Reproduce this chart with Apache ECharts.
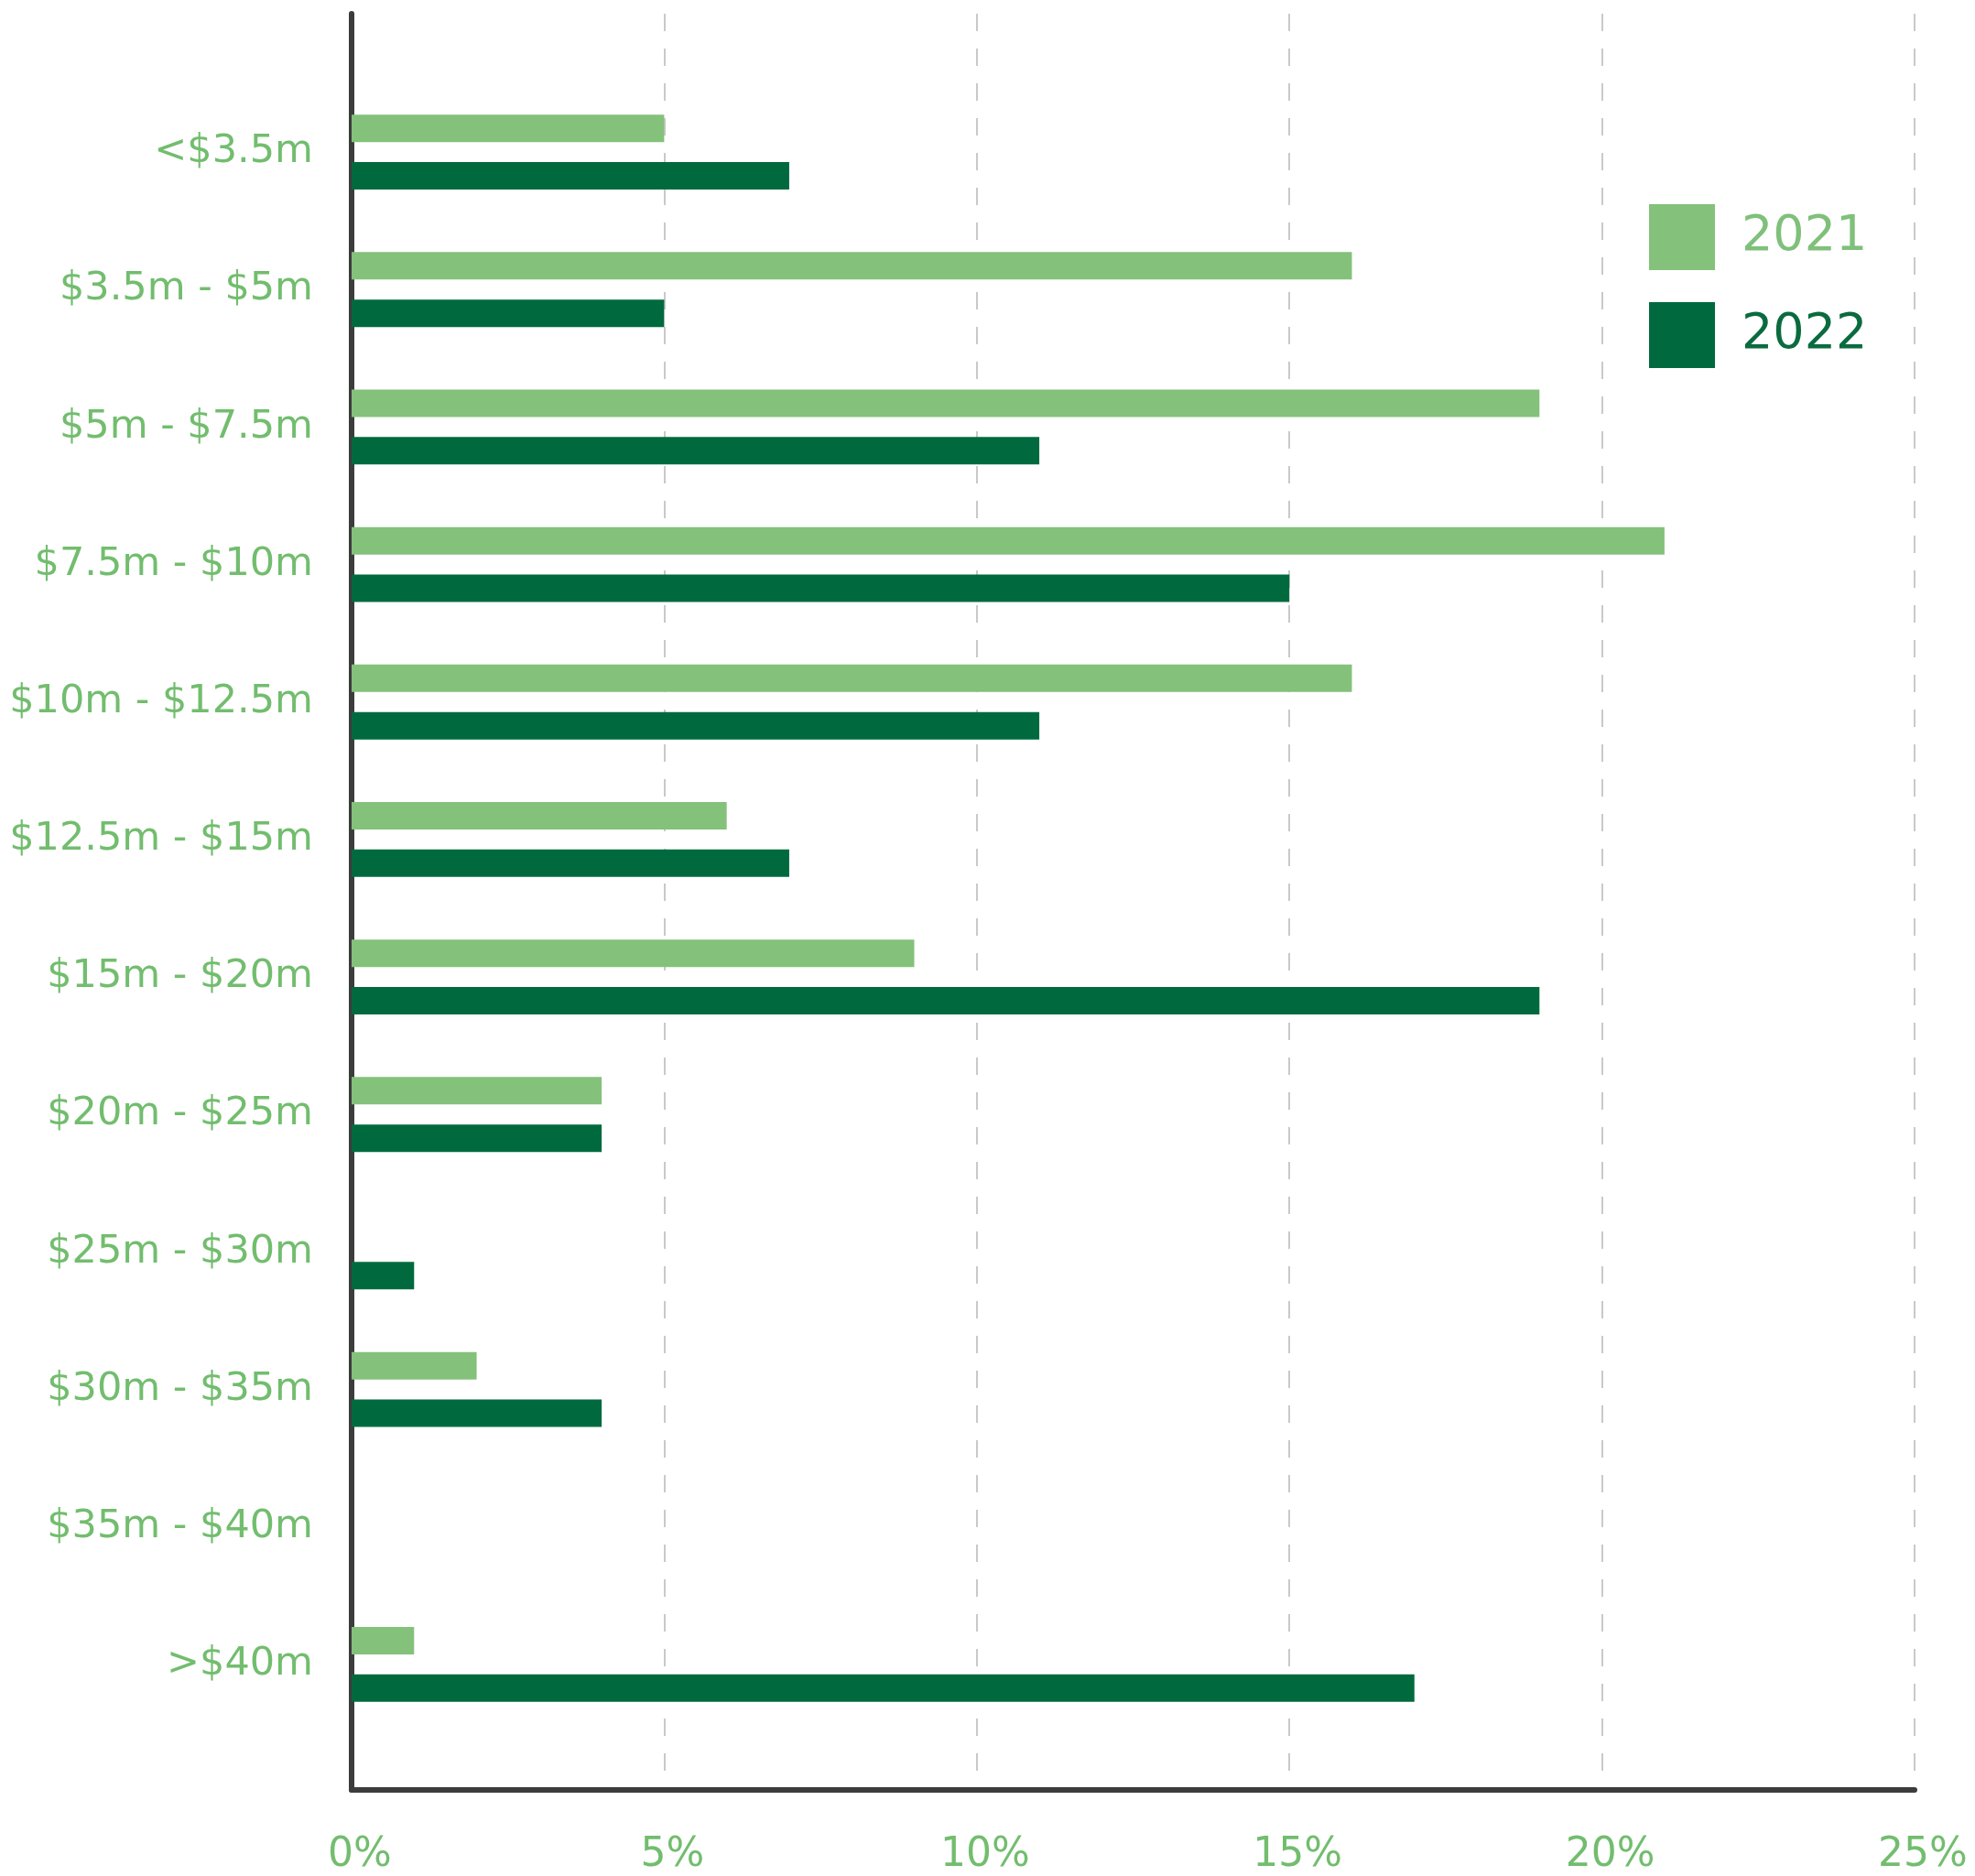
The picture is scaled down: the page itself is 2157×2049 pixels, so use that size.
<!DOCTYPE html>
<html>
<head>
<meta charset="utf-8">
<script src="https://cdn.jsdelivr.net/npm/echarts@6/dist/echarts.min.js"></script>
<style>
  html, body { margin: 0; padding: 0; background: #ffffff; }
  #chart { width: 2157px; height: 2049px; }
</style>
</head>
<body>
<div id="chart"></div>
<script>
// Price bands (top to bottom)
const categories = [
  '<$3.5m', '$3.5m - $5m', '$5m - $7.5m', '$7.5m - $10m', '$10m - $12.5m',
  '$12.5m - $15m', '$15m - $20m', '$20m - $25m', '$25m - $30m',
  '$30m - $35m', '$35m - $40m', '>$40m'
];
// Share of transactions per band, in percent
const share2021 = [5, 16, 19, 21, 16, 6, 9, 4, 0, 2, 0, 1];
const share2022 = [7, 5, 11, 15, 11, 7, 19, 4, 1, 4, 0, 17];
const seriesNames = ['2021', '2022'];
// Percent axis ticks
const xMin = 0;
const xMax = 25;
const xStep = 5;

const FONT = 'DejaVu Sans';
const LIGHT = '#84c17b';
const DARK = '#006a3e';
const LABEL = '#72bd6e';
const AXIS = '#3c3c3c';

const chart = echarts.init(document.getElementById('chart'), null, { renderer: 'canvas' });

chart.setOption({
  backgroundColor: '#ffffff',
  animation: false,
  legend: {
    left: 1796,
    top: 218,
    orient: 'vertical',
    icon: 'rect',
    itemWidth: 72,
    itemHeight: 72,
    itemGap: 35,
    selectedMode: false,
    textStyle: { fontFamily: FONT, fontSize: 54, padding: [18, 0, 0, 24] },
    data: [
      { name: seriesNames[0], textStyle: { color: '#7fc07a' } },
      { name: seriesNames[1], textStyle: { color: '#0a6b3f' } }
    ]
  },
  grid: [
    // bars
    { left: 384, right: 66, top: 91, bottom: 156 },
    // frame: axis lines, dashed guides and percent labels
    { left: 384, right: 66, top: 15, bottom: 93 }
  ],
  xAxis: [
    {
      gridIndex: 0, type: 'value', min: xMin, max: xMax, interval: xStep,
      show: false
    },
    {
      gridIndex: 1, type: 'value', min: xMin, max: xMax, interval: xStep,
      axisLine: { show: true, lineStyle: { color: AXIS, width: 6 } },
      axisTick: { show: false },
      axisLabel: {
        formatter: '{value}%',
        color: LABEL, fontFamily: FONT, fontSize: 44,
        margin: 50, padding: [0, 0, 0, 18]
      },
      splitLine: {
        show: true,
        lineStyle: { color: '#c9c9c9', width: 2, type: [19, 19] }
      }
    }
  ],
  yAxis: [
    {
      gridIndex: 0, type: 'category', data: categories, inverse: true,
      axisLine: { show: false },
      axisTick: { show: false },
      axisLabel: {
        color: LABEL, fontFamily: FONT, fontSize: 43, margin: 42,
        padding: [0, 0, 6, 0]
      },
      splitLine: { show: false }
    },
    {
      gridIndex: 1, type: 'value', min: 0, max: 1,
      axisLine: { show: true, lineStyle: { color: AXIS, width: 6 } },
      axisTick: { show: false },
      axisLabel: { show: false },
      splitLine: { show: false }
    }
  ],
  series: [
    {
      name: seriesNames[0], type: 'bar', xAxisIndex: 0, yAxisIndex: 0,
      data: share2021, barWidth: 30, barGap: '73%',
      itemStyle: { color: LIGHT }
    },
    {
      name: seriesNames[1], type: 'bar', xAxisIndex: 0, yAxisIndex: 0,
      data: share2022, barWidth: 30, barGap: '73%',
      itemStyle: { color: DARK }
    }
  ]
});
</script>
</body>
</html>
